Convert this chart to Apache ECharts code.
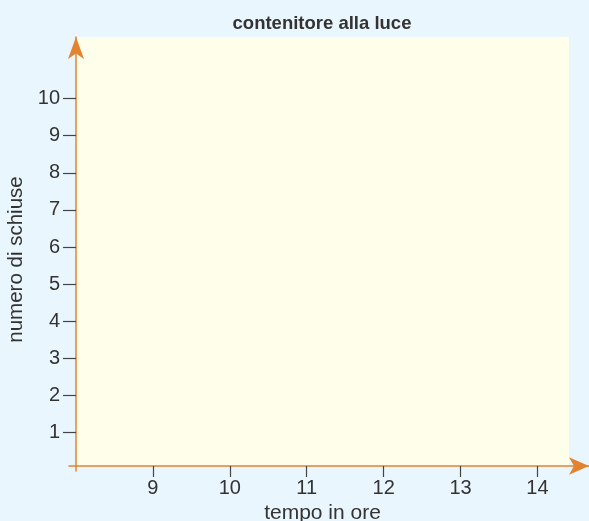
<!DOCTYPE html>
<html>
<head>
<meta charset="utf-8">
<script src="https://cdn.jsdelivr.net/npm/echarts@6/dist/echarts.min.js"></script>
<style>
  html, body { margin: 0; padding: 0; background: #eaf6fd; }
  #chart { width: 589px; height: 521px; }
</style>
</head>
<body>
<div id="chart"></div>
<script>
// dati del grafico (vuoto: solo assi)
const chartTitle = "contenitore alla luce";
const xName = "tempo in ore";
const yName = "numero di schiuse";
const xTicks = [9, 10, 11, 12, 13, 14];
const yTicks = [1, 2, 3, 4, 5, 6, 7, 8, 9, 10];
const xRange = [8, 14.41];
const yRange = [0.103, 11.66];

const ORANGE = "#e3832f";
const INK = "#333333";
const FONT = "Liberation Sans, Arial, sans-serif";

const chart = echarts.init(document.getElementById("chart"), null, { renderer: "canvas" });

// le griglie non devono restringersi per contenere etichette e nomi
const gridBase = { outerBoundsMode: "none", containLabel: false };

chart.setOption({
  backgroundColor: "#eaf6fd",
  animation: false,
  title: {
    text: chartTitle,
    left: 317,
    top: 9,
    textAlign: "center",
    textStyle: { fontFamily: FONT, fontSize: 18.5, fontWeight: "bold", color: INK }
  },
  grid: [
    // area principale (sfondo giallo, tacche, etichette)
    Object.assign({ left: 76, right: 20, top: 37, bottom: 55, show: true, backgroundColor: "#fffeea", borderWidth: 0 }, gridBase),
    // linea asse x con freccia, sporge oltre l'area
    Object.assign({ left: 69, right: 0, top: 37, bottom: 55 }, gridBase),
    // linea asse y con freccia
    Object.assign({ left: 76, right: 20, top: 37, bottom: 50 }, gridBase)
  ],
  xAxis: [
    {
      gridIndex: 0, type: "value", min: xRange[0], max: xRange[1],
      name: xName, nameLocation: "middle", nameGap: 33,
      nameTextStyle: { fontFamily: FONT, fontSize: 21, color: INK },
      axisLine: { show: false },
      axisTick: { show: true, customValues: xTicks, length: 11, lineStyle: { color: "#444", width: 1.2 } },
      axisLabel: { customValues: xTicks, margin: 12, fontFamily: FONT, fontSize: 20, color: INK },
      splitLine: { show: false }
    },
    {
      gridIndex: 1, type: "value", min: 0, max: 1,
      axisLine: { show: true, symbol: ["none", "arrow"], symbolSize: [13, 20], lineStyle: { color: ORANGE, width: 1.5 } },
      axisTick: { show: false }, axisLabel: { show: false }, splitLine: { show: false }
    },
    {
      gridIndex: 2, type: "value", min: 0, max: 1, show: false
    }
  ],
  yAxis: [
    {
      gridIndex: 0, type: "value", min: yRange[0], max: yRange[1],
      name: yName, nameLocation: "middle", nameGap: 41, nameRotate: 90,
      nameTextStyle: { fontFamily: FONT, fontSize: 20.5, color: INK, padding: [0, 16, 0, 0] },
      axisLine: { show: false },
      axisTick: { show: true, customValues: yTicks, length: 13, lineStyle: { color: "#444", width: 1.2 } },
      axisLabel: { customValues: yTicks, margin: 16, fontFamily: FONT, fontSize: 20, color: INK },
      splitLine: { show: false }
    },
    {
      gridIndex: 1, type: "value", min: 0, max: 1, show: false
    },
    {
      gridIndex: 2, type: "value", min: 0, max: 1,
      axisLine: { show: true, onZero: false, symbol: ["none", "arrow"], symbolSize: [12, 22], lineStyle: { color: ORANGE, width: 1.5 } },
      axisTick: { show: false }, axisLabel: { show: false }, splitLine: { show: false }
    }
  ],
  series: []
});
</script>
</body>
</html>
